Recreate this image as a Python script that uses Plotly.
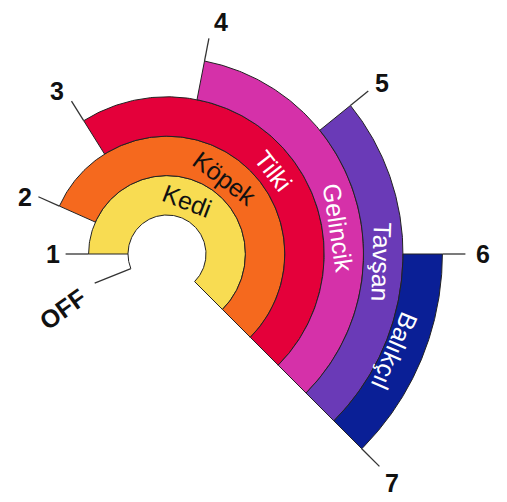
import numpy as np
import plotly.graph_objects as go

# ---- data ----
positions = ["OFF", "1", "2", "3", "4", "5", "6", "7"]
position_angles = [202, 180, 156, 122, 79, 39, 0, -45]   # switch position angles (deg)
bands = ["Kedi", "Köpek", "Tilki", "Gelincik", "Tavşan", "Balıkçıl"]
band_start = ["1", "2", "3", "4", "5", "6"]
band_end = "7"

# ---- style / layout ----
band_colors = ["#F8DC52", "#F5691E", "#E4003A", "#D531A9", "#6A3AB7", "#0A1F96"]
text_colors = ["#111111", "#111111", "white", "white", "white", "white"]
hole_r = 39.0
ring_w = 39.4
label_angle = [69, 53, 38, 8.6, -2, -23]
label_dr = [-2, -3, -2, -4, -2, -8]
pos_label_gap = [79, 36, 35, 40, 42, 39, 41, 46]
pos_label_da = [6, 0, 2, 2, -2, -0.5, 0, -0.5]
FONT = "Liberation Sans, Arial, sans-serif"

ang = dict(zip(positions, position_angles))

def xy(r, a):
    t = np.radians(a)
    return r * np.cos(t), r * np.sin(t)

fig = go.Figure()

for i, name in enumerate(bands):
    a0, a1 = ang[band_start[i]], ang[band_end]
    r_in = hole_r + i * ring_w
    r_out = hole_r + (i + 1) * ring_w
    t = np.linspace(a0, a1, 200)
    xo, yo = xy(r_out, t)
    xi, yi = xy(r_in, t[::-1])
    fig.add_trace(go.Scatter(
        x=np.concatenate([xo, xi, xo[:1]]), y=np.concatenate([yo, yi, yo[:1]]),
        mode="lines", fill="toself", fillcolor=band_colors[i],
        line=dict(color="#222222", width=1), hoverinfo="skip", showlegend=False))
    rl = (r_in + r_out) / 2 + label_dr[i]
    lx, ly = xy(rl, label_angle[i])
    fig.add_annotation(x=lx, y=ly, xref="x", yref="y", text=name, showarrow=False,
                       textangle=90 - label_angle[i],
                       font=dict(family=FONT, size=25, color=text_colors[i]))

# hole outline extension towards OFF
t = np.linspace(ang["1"], ang["OFF"], 30)
hx, hy = xy(hole_r, t)
fig.add_trace(go.Scatter(x=hx, y=hy, mode="lines", line=dict(color="#222222", width=1),
                         hoverinfo="skip", showlegend=False))

# leader lines and position labels
for k, p in enumerate(positions):
    a = ang[p]
    if p == "OFF":
        r0, L = hole_r, 39
    elif p == band_end:
        r0, L = hole_r + len(bands) * ring_w, 25
    else:
        r0, L = hole_r + int(p) * ring_w, 23
    x0, y0 = xy(r0, a)
    x1, y1 = xy(r0 + L, a)
    fig.add_trace(go.Scatter(x=[x0, x1], y=[y0, y1], mode="lines",
                             line=dict(color="#333333", width=1.3),
                             hoverinfo="skip", showlegend=False))
    lx, ly = xy(r0 + pos_label_gap[k], a + pos_label_da[k])
    fig.add_annotation(x=lx, y=ly, xref="x", yref="y", text=f"<b>{p}</b>", showarrow=False,
                       textangle=-36 if p == "OFF" else 0,
                       font=dict(family=FONT, size=25, color="#111111"))

fig.update_xaxes(range=[-167, 340], visible=False, fixedrange=True)
fig.update_yaxes(range=[-248, 254], visible=False, fixedrange=True)
fig.update_layout(width=507, height=502, margin=dict(l=0, r=0, t=0, b=0),
                  plot_bgcolor="white", paper_bgcolor="white", showlegend=False)

fig.write_html("out.html", config={"displayModeBar": False},
               post_script="document.body.style.margin='0';")
